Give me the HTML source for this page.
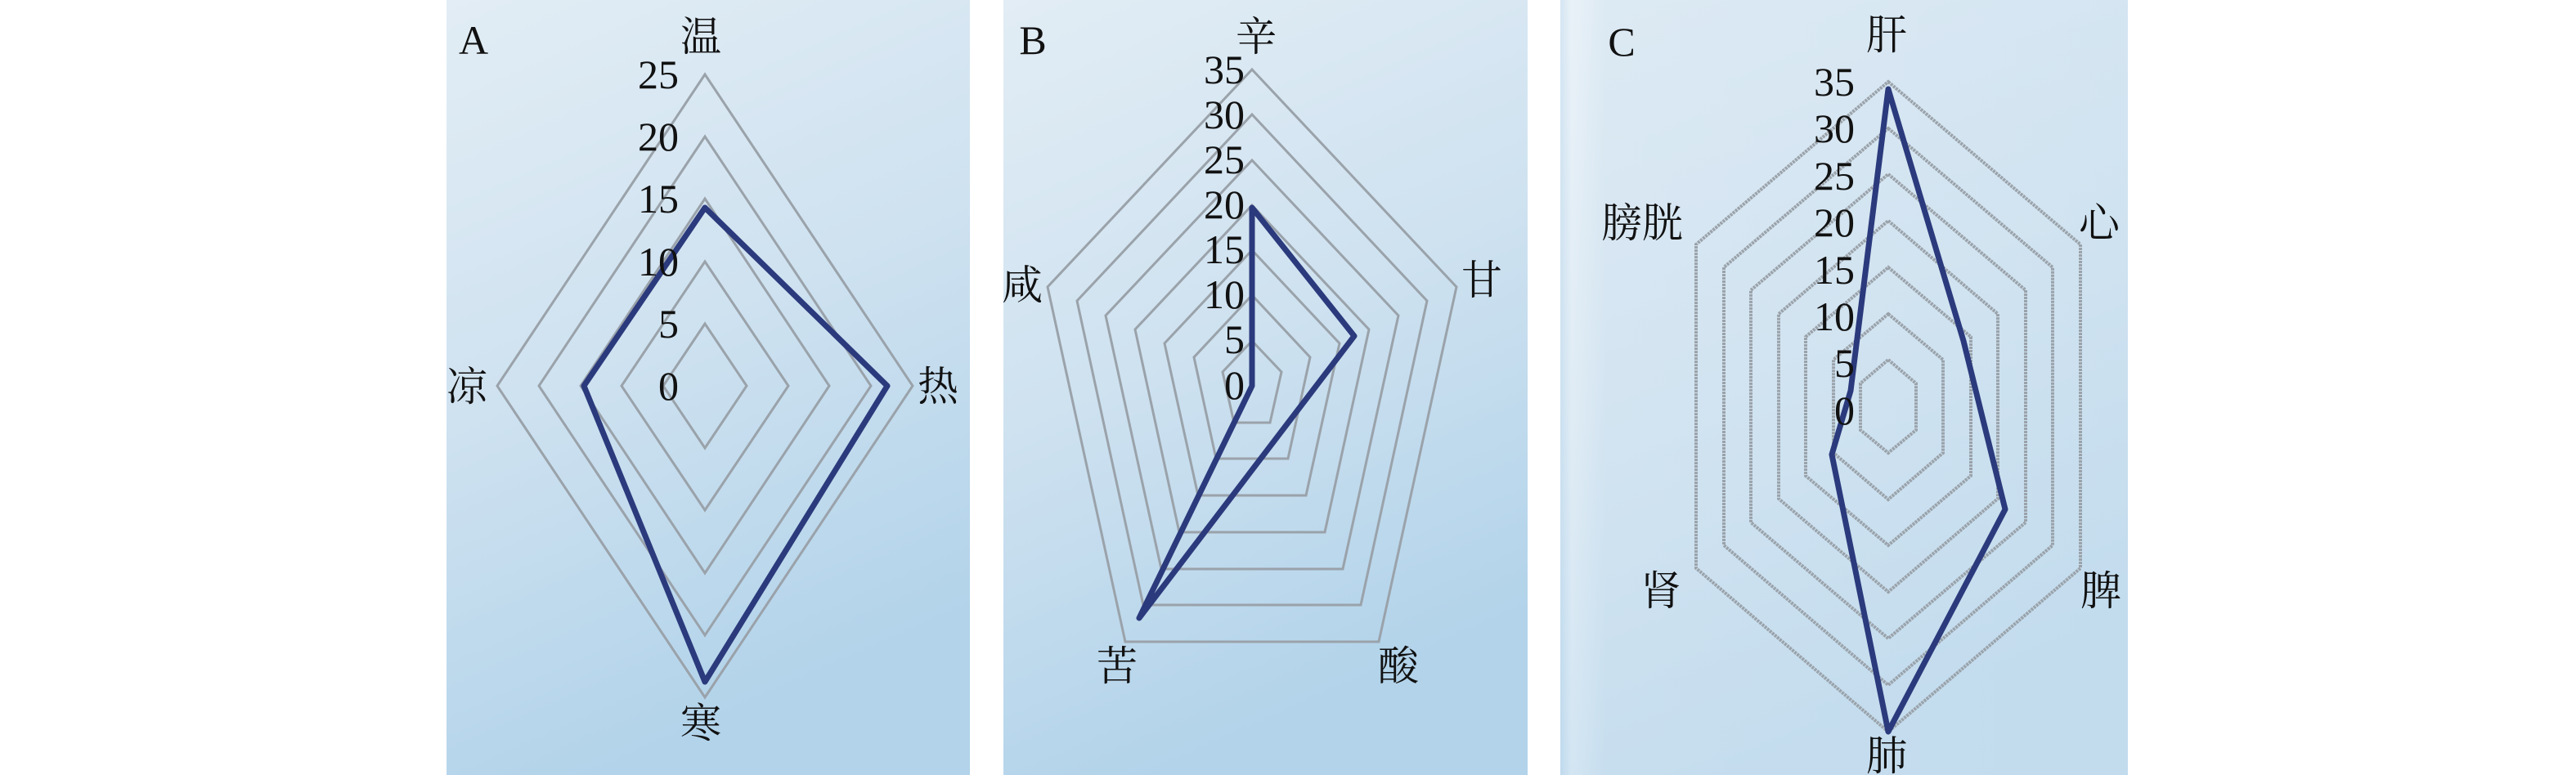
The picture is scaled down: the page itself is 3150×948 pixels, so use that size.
<!DOCTYPE html>
<html><head><meta charset="utf-8"><style>
html,body{margin:0;padding:0;background:#fff;}
svg{display:block}
text{font-family:"Liberation Serif","Noto Serif CJK SC",serif;fill:#111}
</style></head><body>
<svg width="3150" height="948" viewBox="0 0 3150 948" xmlns="http://www.w3.org/2000/svg">
<defs>
<linearGradient id="bg" x1="0" y1="0" x2="0.3" y2="1">
<stop offset="0" stop-color="#e2edf5"/><stop offset="0.5" stop-color="#cfe2f0"/><stop offset="1" stop-color="#b2d3ea"/>
</linearGradient>
<linearGradient id="bgc" x1="0" y1="0" x2="1" y2="0">
<stop offset="0" stop-color="#c7def0"/><stop offset="0.02" stop-color="#f1f6fa"/><stop offset="0.08" stop-color="#d8e7f2"/><stop offset="1" stop-color="#d2e4f1"/>
</linearGradient>
</defs>
<rect x="546" y="0" width="640" height="948" fill="url(#bg)"/>
<rect x="1227" y="0" width="641" height="948" fill="url(#bg)"/>
<rect x="1908" y="0" width="694" height="948" fill="url(#bgc)"/>
<rect x="1908" y="0" width="694" height="948" fill="url(#bg)" opacity="0.5"/>

<!-- Panel A -->
<g fill="none" stroke="#9aa2aa" stroke-width="3">
<polygon points="862,91 1116,472 862,853 608,472"/>
<polygon points="862,167 1065,472 862,777 659,472"/>
<polygon points="862,243 1014,472 862,701 710,472"/>
<polygon points="862,320 964,472 862,624 760,472"/>
<polygon points="862,396 913,472 862,548 811,472"/>
</g>
<polygon points="862,254 1085,472 862,834 714,472" fill="none" stroke="#2b3a7c" stroke-width="7" stroke-linejoin="round"/>
<g font-size="50" text-anchor="middle">
<text x="579" y="66">A</text>
<text x="857" y="62">温</text>
<text x="1147" y="490">热</text>
<text x="857" y="902">寒</text>
<text x="571" y="490">凉</text>
</g>
<g font-size="50" text-anchor="end">
<text x="830" y="108">25</text><text x="830" y="184">20</text><text x="830" y="260">15</text>
<text x="830" y="337">10</text><text x="830" y="413">5</text><text x="830" y="489">0</text>
</g>

<!-- Panel B -->
<g fill="none" stroke="#9aa2aa" stroke-width="3">
<polygon points="1531,85 1781,351 1686,785 1376,785 1281,351"/>
<polygon points="1531,140 1745,368 1664,740 1398,740 1317,368"/>
<polygon points="1531,196 1710,386 1642,696 1420,696 1352,386"/>
<polygon points="1531,251 1674,403 1620,651 1442,651 1388,403"/>
<polygon points="1531,306 1638,420 1597,606 1465,606 1424,420"/>
<polygon points="1531,361 1602,437 1575,561 1487,561 1460,437"/>
<polygon points="1531,417 1567,455 1553,517 1509,517 1495,455"/>
</g>
<polygon points="1531,472 1531,254 1656,411 1393,756" fill="none" stroke="#2b3a7c" stroke-width="7" stroke-linejoin="round"/>
<g font-size="50" text-anchor="middle">
<text x="1263" y="66">B</text>
<text x="1536" y="62">辛</text>
<text x="1812" y="360">甘</text>
<text x="1710" y="832">酸</text>
<text x="1366" y="832">苦</text>
<text x="1250" y="366">咸</text>
</g>
<g font-size="50" text-anchor="end">
<text x="1522" y="102">35</text><text x="1522" y="157">30</text><text x="1522" y="212">25</text>
<text x="1522" y="267">20</text><text x="1522" y="322">15</text><text x="1522" y="377">10</text>
<text x="1522" y="432">5</text><text x="1522" y="488">0</text>
</g>

<!-- Panel C -->
<g fill="none" stroke="#9aa2aa" stroke-width="4" stroke-dasharray="3 1">
<polygon points="2309,100 2544,299 2544,695 2309,895 2074,695 2074,299"/>
<polygon points="2309,157 2510,327 2510,667 2309,838 2108,667 2108,327"/>
<polygon points="2309,213 2477,355 2477,639 2309,781 2141,639 2141,355"/>
<polygon points="2309,270 2443,384 2443,610 2309,724 2175,610 2175,384"/>
<polygon points="2309,327 2410,412 2410,582 2309,667 2208,582 2208,412"/>
<polygon points="2309,384 2376,440 2376,554 2309,611 2242,554 2242,440"/>
<polygon points="2309,440 2343,469 2343,526 2309,554 2275,526 2275,469"/>
</g>
<polygon points="2309,109 2401,417 2452,623 2309,895 2240,556 2263,478" fill="none" stroke="#2b3a7c" stroke-width="7" stroke-linejoin="round"/>
<g font-size="50" text-anchor="middle">
<text x="1983" y="68">C</text>
<text x="2307" y="60">肝</text>
<text x="2567" y="290">心</text>
<text x="2569" y="740">脾</text>
<text x="2307" y="942">肺</text>
<text x="2031" y="740">肾</text>
<text x="2008" y="290">膀胱</text>
</g>
<g font-size="50" text-anchor="end">
<text x="2268" y="117">35</text><text x="2268" y="174">30</text><text x="2268" y="232">25</text>
<text x="2268" y="289">20</text><text x="2268" y="347">15</text><text x="2268" y="404">10</text>
<text x="2268" y="461">5</text><text x="2268" y="519">0</text>
</g>
</svg>
</body></html>
